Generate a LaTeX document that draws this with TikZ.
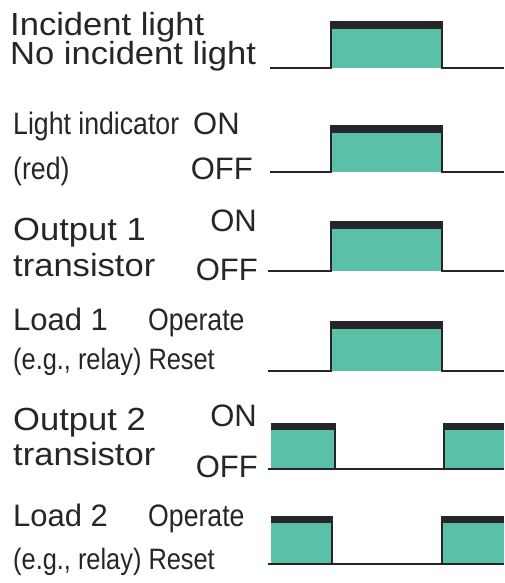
\documentclass[tikz,border=0pt]{standalone}
\usepackage{fontspec}
\setmainfont{Liberation Sans}
\newfontfamily\widesf[FakeStretch=1.08]{Liberation Sans}
\newfontfamily\narrowsf[FakeStretch=0.86]{Liberation Sans}
\definecolor{pulsegreen}{RGB}{91,192,168}
\definecolor{ink}{RGB}{38,38,42}

\begin{document}
\begin{tikzpicture}[x=1pt,y=-1pt,
    wide/.style={font=\widesf\fontsize{32}{34}\selectfont,text=ink,inner sep=0pt},
    narrow/.style={font=\narrowsf\fontsize{31}{33}\selectfont,text=ink,inner sep=0pt},
    relay/.style={font=\narrowsf\fontsize{29.5}{32}\selectfont,text=ink,inner sep=0pt},
    plain/.style={font=\fontsize{31}{33}\selectfont,text=ink,inner sep=0pt},
    level/.style={draw=ink,line width=1.5pt},
    topbar/.style={fill=ink}]
    \useasboundingbox (0,0) rectangle (504,583);

    % labels
    \node[wide,anchor=base west] (inc) at (10,36) {Incident light};
    \node[wide,anchor=base west] (noinc) at (10,65) {No incident light};
    \node[narrow,anchor=base west] (ind) at (13,135) {Light indicator};
    \node[plain,anchor=base west] (indon) at (193,135) {ON};
    \node[narrow,anchor=base west] (red) at (13,179) {(red)};
    \node[plain,anchor=base east] (indoff) at (253,179) {OFF};
    \node[wide,anchor=base west] (outa) at (13,240) {Output 1};
    \node[plain,anchor=base east] (outaon) at (257,231) {ON};
    \node[wide,anchor=base west] (tra) at (13,276) {transistor};
    \node[plain,anchor=base east] (outaoff) at (258,280) {OFF};
    \node[plain,anchor=base west] (loada) at (13,330) {Load 1};
    \node[narrow,anchor=base west] (loadaop) at (148,330) {Operate};
    \node[relay,anchor=base west] (relaya) at (13,369) {(e.g., relay) Reset};
    \node[wide,anchor=base west] (outb) at (13,430) {Output 2};
    \node[plain,anchor=base east] (outbon) at (257,426) {ON};
    \node[wide,anchor=base west] (trb) at (13,465) {transistor};
    \node[plain,anchor=base east] (outboff) at (258,477) {OFF};
    \node[plain,anchor=base west] (loadb) at (13,526) {Load 2};
    \node[narrow,anchor=base west] (loadbop) at (148,526) {Operate};
    \node[relay,anchor=base west] (relayb) at (13,569) {(e.g., relay) Reset};

    % single pulses
    \foreach \top/\base/\start in {22/68/270,126/172/270,222/271/268,322/371/268}{
        \fill[pulsegreen] (331,\base) rectangle (442,\top);
        \fill[topbar] (331,\top) rectangle (442,\top+7);
        \draw[level] (\start,\base) -- (331,\base) -- (331,\top) -- (442,\top) -- (442,\base) -- (504,\base);
    }

    % output 2 and load 2
    \foreach \top/\base/\fall/\rise in {423/469/335/444,516/564/332/442}{
        \fill[pulsegreen] (271,\base) rectangle (\fall,\top);
        \fill[pulsegreen] (\rise,\base) rectangle (504,\top);
        \fill[topbar] (271,\top) rectangle (\fall,\top+7);
        \fill[topbar] (\rise,\top) rectangle (504,\top+7);
        \draw[level] (268,\base) -- (\fall,\base) -- (\fall,\top);
        \draw[level] (\fall,\base) -- (\rise,\base) -- (\rise,\top);
        \draw[level] (\rise,\base) -- (504,\base);
    }
\end{tikzpicture}
\end{document}
